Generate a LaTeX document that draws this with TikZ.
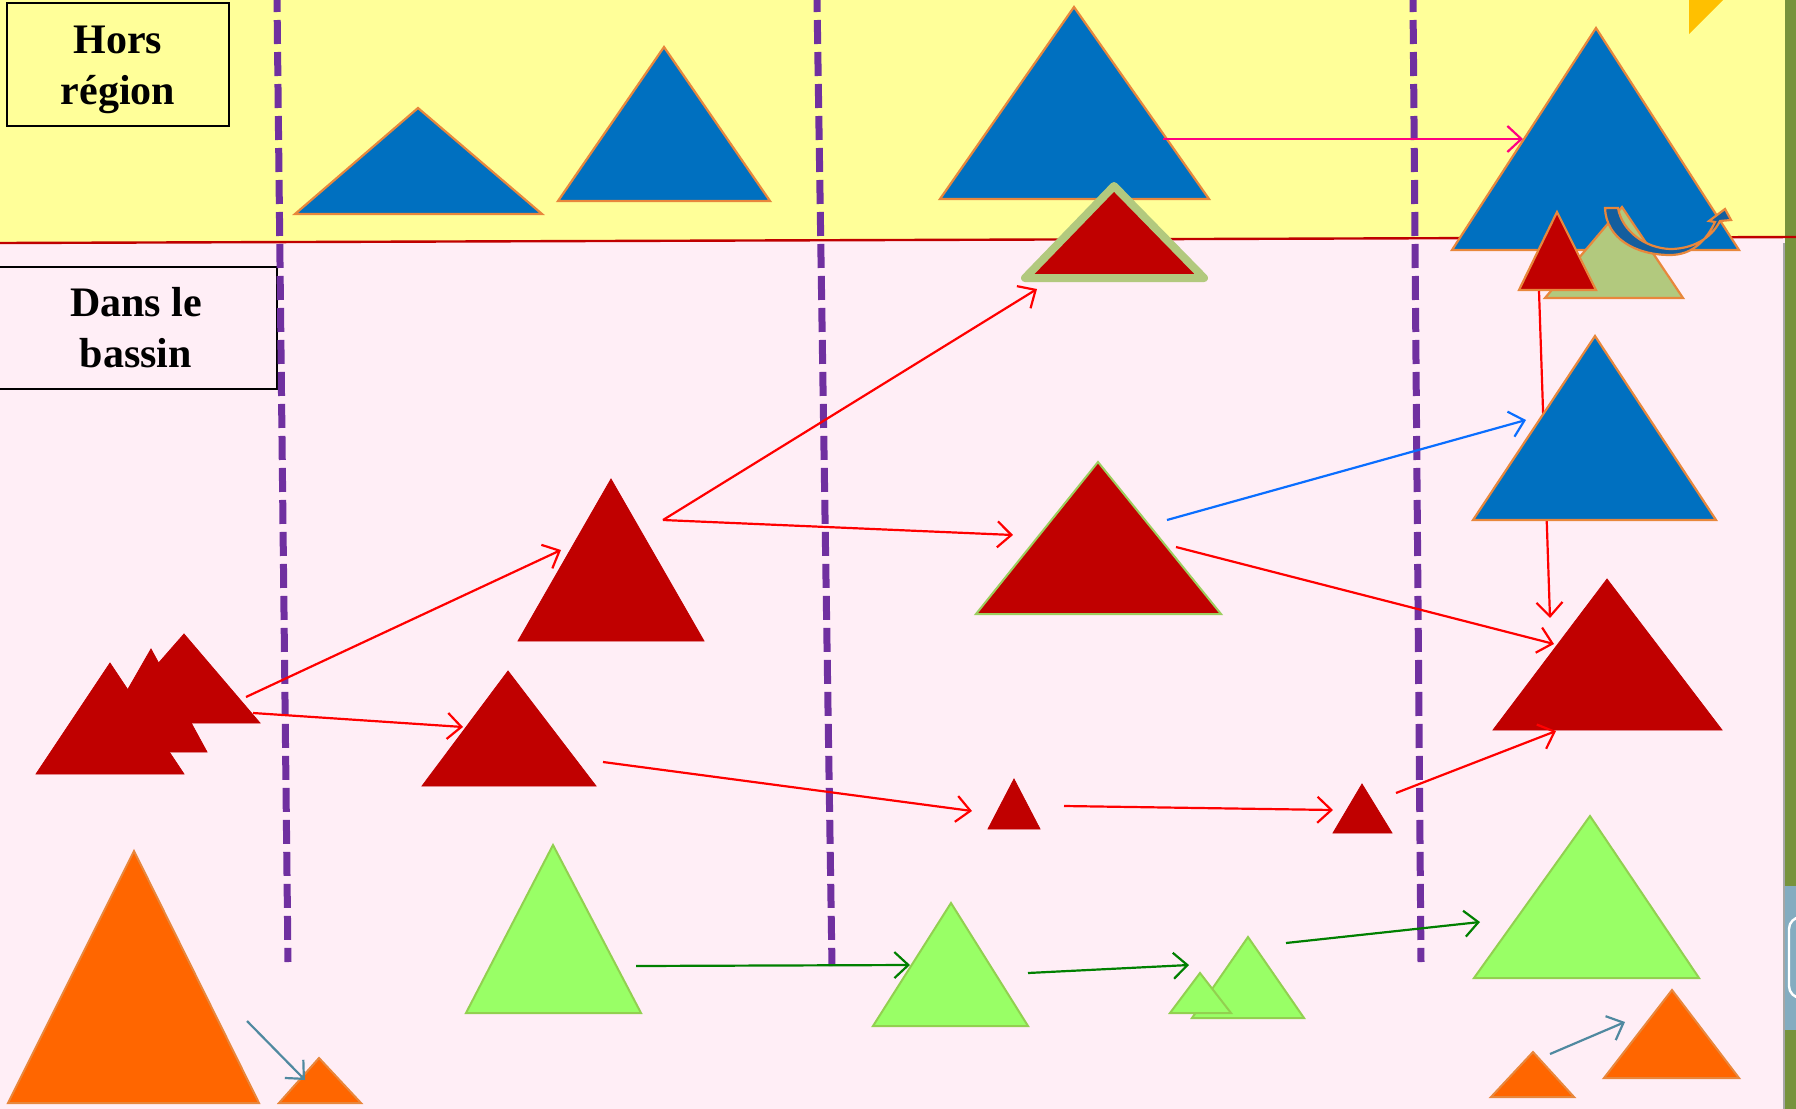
\documentclass[tikz,border=0pt]{standalone}
\usepackage{fontspec}
\setmainfont{Liberation Serif}
\usetikzlibrary{arrows.meta}
\definecolor{bgyellow}{RGB}{255,255,153}
\definecolor{bgpink}{RGB}{255,238,246}
\definecolor{sepred}{RGB}{192,0,0}
\definecolor{dashpurple}{RGB}{112,48,160}
\definecolor{triblue}{RGB}{0,112,192}
\definecolor{trired}{RGB}{192,0,0}
\definecolor{triorange}{RGB}{255,102,0}
\definecolor{trigreen}{RGB}{153,255,102}
\definecolor{edgeorange}{RGB}{232,135,60}
\definecolor{edgegreen}{RGB}{146,208,80}
\definecolor{olivefill}{RGB}{178,201,126}
\definecolor{stripgreen}{RGB}{119,147,60}
\definecolor{stripblue}{RGB}{132,172,192}
\definecolor{arrred}{RGB}{255,0,0}
\definecolor{arrpink}{RGB}{255,0,128}
\definecolor{arrblue}{RGB}{10,110,255}
\definecolor{arrgreen}{RGB}{0,128,0}
\definecolor{arrteal}{RGB}{80,137,160}
\definecolor{cornergold}{RGB}{255,192,0}
\definecolor{curvefill}{RGB}{20,94,158}
\tikzset{
  bluetri/.style={fill=triblue, draw=edgeorange, line width=1.1pt},
  redtri/.style={fill=trired, draw=trired, line width=0.4pt},
  greentri/.style={fill=trigreen, draw=edgegreen, line width=1pt},
  orangetri/.style={fill=triorange, draw=edgeorange, line width=1pt},
  flow/.style={-{Straight Barb[length=7pt,width=13pt]}, line width=1.1pt},
  divider/.style={draw=dashpurple, line width=3.5pt, dash pattern=on 12pt off 4pt, dash phase=6pt},
  labelbox/.style={draw=black, line width=1pt, inner sep=0pt},
  labeltext/.style={font=\bfseries\fontsize{21}{25.5}\selectfont, align=center, inner sep=0pt}
}
\begin{document}
\begin{tikzpicture}[x=0.5pt,y=-0.5pt]
\useasboundingbox (0,0) rectangle (1796,1109);
% backgrounds
\fill[bgpink] (0,0) rectangle (1796,1109);
\fill[bgyellow] (0,0) -- (1785,0) -- (1785,237) -- (0,243) -- cycle;
\fill[stripgreen] (1785,0) rectangle (1796,1109);
\fill[stripblue] (1785,886) rectangle (1796,1030);
\draw[white, line width=1.2pt, rounded corners=6pt] (1800,917) -- (1789,917) -- (1789,998) -- (1800,998);
\draw[gray!70, line width=0.8pt] (1784,243) -- (1784,1109);
\fill[cornergold] (1689,0) -- (1723,0) -- (1689,34) -- cycle;
% separator
\draw[sepred, line width=1.2pt] (0,243) -- (1796,237);
% labels
\node[labelbox, fill=bgyellow, minimum width=111pt, minimum height=61.5pt] (horsbox) at (118,64.5) {};
\node[labeltext] (hors) at (118,69.5) {Hors\\région};
\node[labelbox, fill=bgpink, minimum width=139.5pt, minimum height=61pt] (dansbox) at (137.5,328) {};
\node[labeltext] (dans) at (136,327.5) {Dans le\\bassin};
% dividers
\draw[divider] (277,0) -- (288,962);
\draw[divider] (817,0) -- (832,966);
\draw[divider] (1413,0) -- (1421,962);
% blue triangles (hors region)
\draw[bluetri] (418,108) -- (542,214) -- (295,214) -- cycle;
\draw[bluetri] (664,47) -- (770,201) -- (558,201) -- cycle;
\draw[bluetri] (1074,7) -- (1209,199) -- (940,199) -- cycle;
\draw[bluetri] (1596,28) -- (1739,250) -- (1452,250) -- cycle;
\draw[fill=olivefill, draw=edgeorange, line width=1.1pt] (1622,207) -- (1683,298) -- (1545,298) -- cycle;
\draw[fill=trired, draw=edgeorange, line width=1.1pt] (1557,212) -- (1596,290) -- (1519,290) -- cycle;
\draw[fill=curvefill, draw=edgeorange, line width=1.1pt]
  (1605,208) -- (1618,208) .. controls (1622,231) and (1645,248) .. (1670,249)
  .. controls (1692,249) and (1711,239) .. (1720,221) -- (1731,220) -- (1725,209) -- (1709,221) -- (1715,222)
  .. controls (1706,241) and (1692,255) .. (1670,255)
  .. controls (1635,255) and (1606,238) .. cycle;
% red triangle with green border
\draw[fill=trired, draw=olivefill, line width=4pt, line join=round] (1114,186) -- (1204,278) -- (1025,278) -- cycle;
% vertical red arrow (behind blue triangle)
\coordinate (v1s) at (1539,291);
\coordinate (v1e) at (1550,618);
\draw[flow, arrred] (v1s) -- (v1e);
\draw[bluetri] (1595,336) -- (1716,520) -- (1473,520) -- cycle;
% red triangles
\draw[redtri] (184,634) -- (260,723) -- (106,723) -- cycle;
\draw[redtri] (151,649) -- (207,752) -- (92,752) -- cycle;
\draw[redtri] (110,663) -- (184,774) -- (36,774) -- cycle;
\draw[redtri] (611,479) -- (704,641) -- (518,641) -- cycle;
\draw[redtri] (508,671) -- (596,786) -- (422,786) -- cycle;
\draw[fill=trired, draw=edgegreen!70!olivefill, line width=1pt] (1098,462) -- (1221,614) -- (976,614) -- cycle;
\draw[redtri] (1014,779) -- (1040,829) -- (988,829) -- cycle;
\draw[redtri] (1362,784) -- (1392,833) -- (1333,833) -- cycle;
\draw[redtri] (1607,579) -- (1722,730) -- (1493,730) -- cycle;
% green triangles
\draw[greentri] (553,845) -- (641,1013) -- (466,1013) -- cycle;
\draw[greentri] (951,903) -- (1028,1026) -- (873,1026) -- cycle;
\draw[greentri] (1248,937) -- (1304,1018) -- (1192,1018) -- cycle;
\draw[greentri] (1200,973) -- (1231,1013) -- (1170,1013) -- cycle;
\draw[greentri] (1590,816) -- (1699,978) -- (1474,978) -- cycle;
% orange triangles
\draw[orangetri] (134,851) -- (259,1103) -- (8,1103) -- cycle;
\draw[orangetri] (319,1058) -- (361,1103) -- (279,1103) -- cycle;
\draw[orangetri] (1672,990) -- (1739,1078) -- (1604,1078) -- cycle;
\draw[orangetri] (1533,1052) -- (1574,1097) -- (1491,1097) -- cycle;
% arrow end points
\coordinate (a1s) at (1163,139);  \coordinate (a1e) at (1523,139);
\coordinate (a2s) at (663,520);   \coordinate (a2e) at (1037,289);
\coordinate (a3e) at (1013,535);
\coordinate (a4s) at (246,697);   \coordinate (a4e) at (561,550);
\coordinate (a5s) at (253,713);   \coordinate (a5e) at (463,727);
\coordinate (a6s) at (603,762);   \coordinate (a6e) at (972,811);
\coordinate (a7s) at (1064,806);  \coordinate (a7e) at (1333,810);
\coordinate (a8s) at (1396,793);  \coordinate (a8e) at (1556,731);
\coordinate (a9s) at (1167,520);  \coordinate (a9e) at (1526,420);
\coordinate (a10s) at (1176,547); \coordinate (a10e) at (1554,644);
\coordinate (a12s) at (636,966);  \coordinate (a12e) at (910,965);
\coordinate (a13s) at (1028,973); \coordinate (a13e) at (1189,965);
\coordinate (a14s) at (1286,943); \coordinate (a14e) at (1480,922);
\coordinate (a15s) at (247,1021); \coordinate (a15e) at (305,1080);
\coordinate (a16s) at (1550,1054);\coordinate (a16e) at (1625,1022);
% arrows
\draw[flow, arrpink] (a1s) -- (a1e);
\draw[flow, arrred] (a2s) -- (a2e);
\draw[flow, arrred] (a2s) -- (a3e);
\draw[flow, arrred] (a4s) -- (a4e);
\draw[flow, arrred] (a5s) -- (a5e);
\draw[flow, arrred] (a6s) -- (a6e);
\draw[flow, arrred] (a7s) -- (a7e);
\draw[flow, arrred] (a8s) -- (a8e);
\draw[flow, arrblue] (a9s) -- (a9e);
\draw[flow, arrred] (a10s) -- (a10e);
\draw[flow, arrgreen] (a12s) -- (a12e);
\draw[flow, arrgreen] (a13s) -- (a13e);
\draw[flow, arrgreen] (a14s) -- (a14e);
\draw[flow, arrteal] (a15s) -- (a15e);
\draw[flow, arrteal] (a16s) -- (a16e);
\end{tikzpicture}
\end{document}
